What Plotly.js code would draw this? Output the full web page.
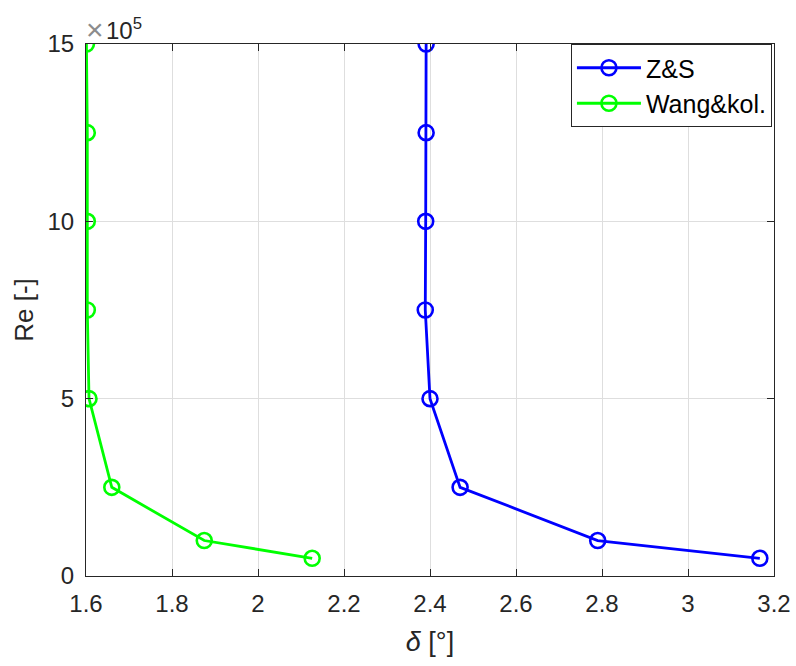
<!DOCTYPE html>
<html>
<head>
<meta charset="utf-8">
<script src="https://cdn.plot.ly/plotly-3.0.1.min.js"></script>
<style>html,body{margin:0;padding:0;background:#fff;}#chart{width:796px;height:666px;}</style>
</head>
<body>
<div id="chart"></div>
<script>
const reValues = [15, 12.5, 10, 7.5, 5, 2.5, 1, 0.5]; // x10^5
const deltaZS = [2.391, 2.391, 2.390, 2.389, 2.400, 2.470, 2.790, 3.167];
const deltaWang = [1.601, 1.603, 1.603, 1.603, 1.607, 1.660, 1.875, 2.126];
const seriesNames = ['Z&S', 'Wang&kol.'];
const xTicks = [1.6, 1.8, 2, 2.2, 2.4, 2.6, 2.8, 3, 3.2];
const xTickText = ['1.6', '1.8', '2', '2.2', '2.4', '2.6', '2.8', '3', '3.2'];
const yTicks = [0, 5, 10, 15];

const fontFam = 'Liberation Sans, Arial, Helvetica, sans-serif';
const axisColor = '#262626';

const traces = [
  {x: deltaZS, y: reValues, name: seriesNames[0], mode: 'lines+markers',
   line: {color: '#0000ff', width: 2.8},
   marker: {symbol: 'circle-open', size: 15, color: '#0000ff', line: {width: 2.6, color: '#0000ff'}}},
  {x: deltaWang, y: reValues, name: seriesNames[1], mode: 'lines+markers',
   line: {color: '#00ff00', width: 2.8},
   marker: {symbol: 'circle-open', size: 15, color: '#00ff00', line: {width: 2.6, color: '#00ff00'}}}
];

const axisCommon = {
  showline: true, linecolor: axisColor, linewidth: 1, mirror: 'ticks',
  ticks: 'inside', ticklen: 7, tickcolor: axisColor, tickwidth: 1,
  showgrid: true, gridcolor: '#dedede', gridwidth: 1, zeroline: false,
  tickfont: {family: fontFam, size: 24, color: axisColor}
};

const layout = {
  width: 796, height: 666,
  margin: {l: 86, r: 22, t: 44, b: 90},
  paper_bgcolor: '#ffffff', plot_bgcolor: '#ffffff',
  showlegend: true,
  legend: {x: 0.997, y: 1, xanchor: 'right', yanchor: 'top',
    bordercolor: axisColor, borderwidth: 1, bgcolor: '#ffffff',
    font: {family: fontFam, size: 25, color: '#000'}, tracegroupgap: 0,
    itemwidth: 64},
  xaxis: Object.assign({}, axisCommon, {
    range: [1.6, 3.2], tickvals: xTicks, ticktext: xTickText, ticklabelstandoff: 6,
    title: {text: '<i>δ</i> [°]', font: {family: fontFam, size: 27, color: axisColor}, standoff: 16}
  }),
  yaxis: Object.assign({}, axisCommon, {
    range: [0, 15], tickvals: yTicks, ticklabelstandoff: 6,
    title: {text: 'Re [-]', font: {family: fontFam, size: 26, color: axisColor}, standoff: 6}
  }),
  annotations: [
    {xref: 'paper', yref: 'paper', x: 0, y: 1, xanchor: 'left', yanchor: 'bottom',
     xshift: -2, yshift: -4, showarrow: false, text: '×',
     font: {family: fontFam, size: 30, color: '#8c8c8c'}},
    {xref: 'paper', yref: 'paper', x: 0, y: 1, xanchor: 'left', yanchor: 'bottom',
     xshift: 18, yshift: -2, showarrow: false, text: '10<sup>5</sup>',
     font: {family: fontFam, size: 24, color: axisColor}}
  ]
};

Plotly.newPlot('chart', traces, layout, {displayModeBar: false, staticPlot: true});
</script>
</body>
</html>
